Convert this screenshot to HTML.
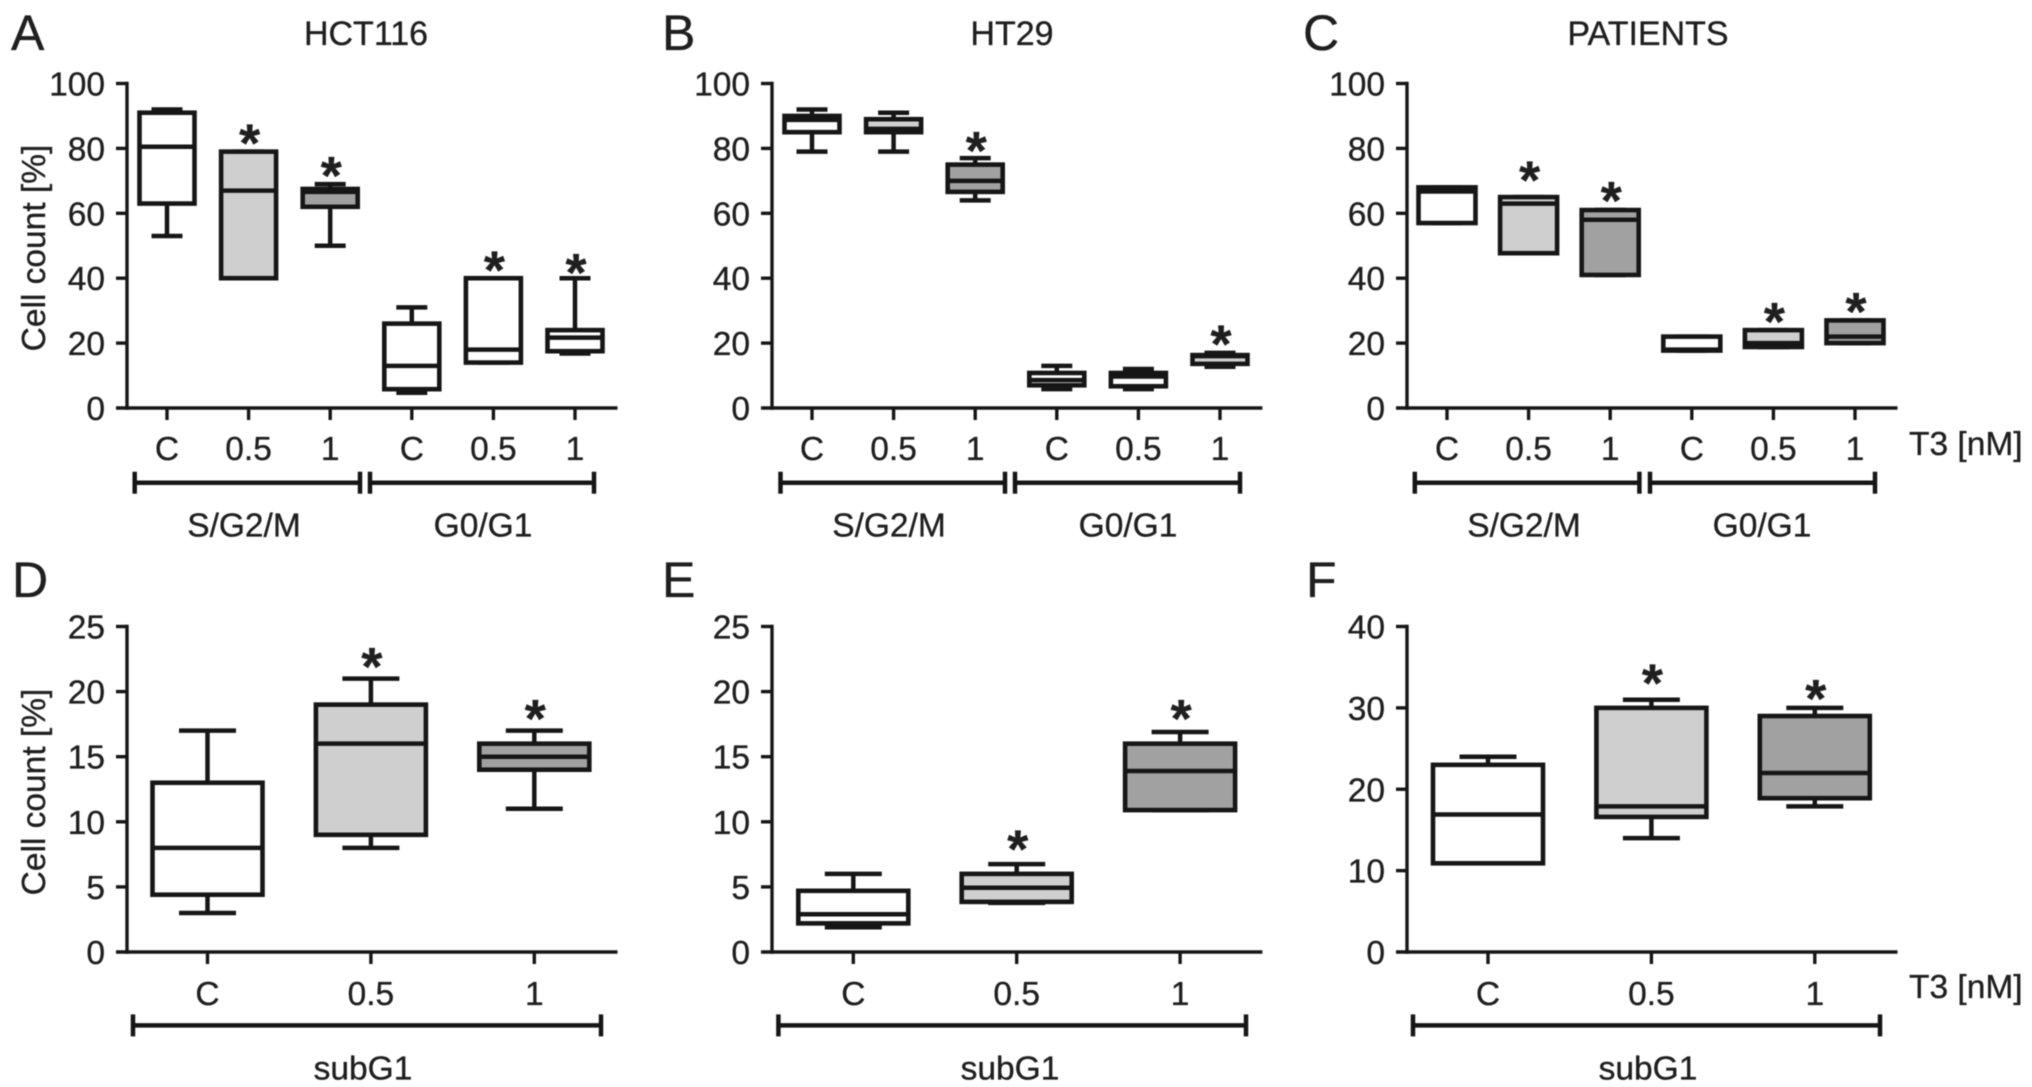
<!DOCTYPE html>
<html lang="en">
<head>
<meta charset="utf-8">
<title>Cell cycle box plots</title>
<style>
html,body{margin:0;padding:0;background:#fff;}
#figure{display:block;width:2032px;height:1087px;background:#fff;}
#figure text{font-family:"Liberation Sans",Arial,sans-serif;fill:#1f1f1f;stroke:#1f1f1f;stroke-width:0.35px;}
#content{filter:blur(0.6px);}
</style>
</head>
<body>
<svg id="figure" xmlns="http://www.w3.org/2000/svg" width="2032" height="1087" viewBox="0 0 2032 1087"><g id="content"></g></svg>
<script>
// ---- Shared categories and ticks ----
const categoriesSix = ['C','0.5','1','C','0.5','1'];
const categoriesThree = ['C','0.5','1'];
const groupsCycle = ['S/G2/M','G0/G1'];
const groupsSub = ['subG1'];
const ticksPercent = [0,20,40,60,80,100];
const ticksSub = [0,5,10,15,20,25];
const ticksPatientsSub = [0,10,20,30,40];

// ---- Panel A: HCT116 ----
const aMin = [53,40,50,4.7,14,16.8];
const aQ1  = [63,40,62,5.8,14,17.5];
const aMed = [80.5,67,66.6,13,18,21.7];
const aQ3  = [91,79,67.5,26,40,24];
const aMax = [92,79,69,31,40,40];
const aStars = [null,84,74,null,44.8,44];
const aFills = ['none','light','dark','none','none','none'];

// ---- Panel B: HT29 ----
const bMin = [79,79,64,5.8,5.8,12.7];
const bQ1  = [85,85,66.6,7,6.7,13.6];
const bMed = [88.8,86,70,8.6,9.7,16];
const bQ3  = [90,89,75,10.8,10.8,16.3];
const bMax = [92,91,77,13,12,17];
const bStars = [null,null,81.6,null,null,22];
const bFills = ['none','light','dark','none','none','light'];

// ---- Panel C: Patients ----
const cMin = [57,47.7,41,17.7,18.8,20];
const cQ1  = [57,47.7,41,17.7,18.8,20];
const cMed = [66.7,63,58,18,20,22];
const cQ3  = [68,65,61,22,24,27];
const cMax = [68,65,61,22,24,27];
const cStars = [null,72.5,66.2,null,29,32];
const cFills = ['none','light','dark','none','light','dark'];

// ---- Panel D: HCT116 subG1 ----
const dMin = [3,8,11];
const dQ1  = [4.4,9,14];
const dMed = [8,16,15];
const dQ3  = [13,19,16];
const dMax = [17,21,17];
const dStars = [null,22.5,18.5];
const dFills = ['none','light','dark'];

// ---- Panel E: HT29 subG1 ----
const eMin = [1.9,3.77,10.9];
const eQ1  = [2.2,3.85,10.9];
const eMed = [2.9,4.93,13.9];
const eQ3  = [4.7,6,16];
const eMax = [6,6.75,16.9];
const eStars = [null,8.5,18.5];
const eFills = ['none','light','dark'];

// ---- Panel F: Patients subG1 ----
const fMin = [10.9,14,17.9];
const fQ1  = [10.9,16.6,18.9];
const fMed = [16.9,17.9,22];
const fQ3  = [23,30,29];
const fMax = [24,31,30];
const fStars = [null,34,32.1];
const fFills = ['none','light','dark'];

const SVGNS = 'http://www.w3.org/2000/svg';
const root = document.getElementById('content');
const INK = '#161616';
const FILLS = {none:'#ffffff', light:'#cfcfcf', dark:'#a1a1a1'};

function svgEl(tag, parent){
  const el = document.createElementNS(SVGNS, tag);
  parent.appendChild(el);
  return el;
}
function drawLine(parent, x1, y1, x2, y2, w, name){
  const l = svgEl('line', parent);
  l.setAttribute('x1', x1); l.setAttribute('y1', y1);
  l.setAttribute('x2', x2); l.setAttribute('y2', y2);
  l.setAttribute('stroke', INK); l.setAttribute('stroke-width', w);
  
  
  return l;
}
function drawText(parent, str, x, y, size, anchor, name){
  const t = svgEl('text', parent);
  t.setAttribute('x', x); t.setAttribute('y', y);
  t.setAttribute('font-size', size);
  t.setAttribute('text-anchor', anchor);
  
  
  t.textContent = str;
  return t;
}

function drawPanel(cfg){
  const g = svgEl('g', root);
  
  

  const yMax = cfg.ticks[cfg.ticks.length - 1];
  const yScale = v => cfg.y0 - (v / yMax) * (cfg.y0 - cfg.yTop);
  const xScale = i => cfg.xFirst + i * cfg.xStep;

  drawText(g, cfg.letter, cfg.letterX, cfg.letterY, 50, 'start', 'panel-letter');
  if (cfg.title) drawText(g, cfg.title, cfg.titleX, 45, 34, 'middle', 'panel-title');

  // axes
  drawLine(g, cfg.axisX, cfg.yTop - 1.7, cfg.axisX, cfg.y0 + 1.7, 3.4, 'y-axis-line');
  drawLine(g, cfg.axisX - 11, cfg.y0, cfg.xEnd, cfg.y0, 3.4, 'x-axis-line');

  cfg.ticks.forEach(v => {
    const y = yScale(v);
    if (v !== 0) drawLine(g, cfg.axisX - 11, y, cfg.axisX, y, 3.4, 'y-tick');
    drawText(g, String(v), cfg.axisX - 22, y + 12, 33.5, 'end', 'y-tick-label');
  });
  if (cfg.yTitle) {
    const t = drawText(g, cfg.yTitle, 0, 0, 33.5, 'middle', 'y-axis-title');
    t.setAttribute('transform', 'translate(45,' + cfg.yTitleY + ') rotate(-90)');
  }

  // boxes
  cfg.categories.forEach((cat, i) => {
    const x = xScale(i);
    drawLine(g, x, cfg.y0, x, cfg.y0 + 12, 3.4, 'x-tick');
    drawText(g, cat, x, cfg.labelY, 33.5, 'middle', 'x-tick-label');

    const box = svgEl('g', g);
    
    
    const capH = cfg.capW / 2, boxH = cfg.boxW / 2;
    drawLine(box, x, yScale(cfg.max[i]), x, yScale(cfg.q3[i]), 4.5, 'whisker-upper');
    drawLine(box, x, yScale(cfg.q1[i]), x, yScale(cfg.min[i]), 4.5, 'whisker-lower');
    drawLine(box, x - capH, yScale(cfg.max[i]), x + capH, yScale(cfg.max[i]), 4.5, 'whisker-cap-upper');
    drawLine(box, x - capH, yScale(cfg.min[i]), x + capH, yScale(cfg.min[i]), 4.5, 'whisker-cap-lower');
    const r = svgEl('rect', box);
    r.setAttribute('x', x - boxH);
    r.setAttribute('y', yScale(cfg.q3[i]));
    r.setAttribute('width', cfg.boxW);
    r.setAttribute('height', yScale(cfg.q1[i]) - yScale(cfg.q3[i]));
    r.setAttribute('fill', FILLS[cfg.fills[i]]);
    r.setAttribute('stroke', INK);
    r.setAttribute('stroke-width', 4.6);
    
    
    drawLine(box, x - boxH, yScale(cfg.med[i]), x + boxH, yScale(cfg.med[i]), 4.5, 'median-line');

    if (cfg.stars[i] !== null) {
      // the asterisk glyph's ink sits above the baseline, so the text baseline is offset down
      const s = drawText(g, '*', x + 1, yScale(cfg.stars[i]) + 26, 54, 'middle', 'significance-asterisk');
      s.setAttribute('font-weight', 'bold');
    }
  });

  // group brackets
  cfg.groups.forEach((name, i) => {
    const b = cfg.brackets[i];
    drawLine(g, b[0], cfg.bracketY, b[1], cfg.bracketY, 4.5, 'group-bracket');
    drawLine(g, b[0], cfg.bracketY - 11, b[0], cfg.bracketY + 11, 4.5, 'group-bracket-end');
    drawLine(g, b[1], cfg.bracketY - 11, b[1], cfg.bracketY + 11, 4.5, 'group-bracket-end');
    drawText(g, name, b[2], cfg.bracketY + 54, 33.5, 'middle', 'group-label');
  });

  if (cfg.unitY) drawText(g, 'T3 [nM]', 1909, cfg.unitY, 33.5, 'start', 'dose-unit-label');
}

const topRow = {yTop:83.5, y0:408, xStep:81.6, capW:31, boxW:55, labelY:460, bracketY:482.7, letterY:50, categories:categoriesSix, groups:groupsCycle, ticks:ticksPercent};
const botRow = {yTop:626.5, y0:952, xStep:163.4, capW:57, boxW:110, labelY:1005, bracketY:1025.4, letterY:597, categories:categoriesThree, groups:groupsSub};

drawPanel(Object.assign({}, topRow, {letter:'A', letterX:11, title:'HCT116', titleX:366, axisX:127, xEnd:617.5, xFirst:167, yTitle:'Cell count [%]', yTitleY:248,
  min:aMin, q1:aQ1, med:aMed, q3:aQ3, max:aMax, stars:aStars, fills:aFills, brackets:[[134.7,360,244],[370,594,483]]}));
drawPanel(Object.assign({}, topRow, {letter:'B', letterX:662, title:'HT29', titleX:1012, axisX:772, xEnd:1262.4, xFirst:812,
  min:bMin, q1:bQ1, med:bMed, q3:bQ3, max:bMax, stars:bStars, fills:bFills, brackets:[[780.5,1005,889],[1015,1240,1128]]}));
drawPanel(Object.assign({}, topRow, {letter:'C', letterX:1303, title:'PATIENTS', titleX:1648, axisX:1407, xEnd:1897.5, xFirst:1447, capW:31, boxW:57, unitY:455,
  min:cMin, q1:cQ1, med:cMed, q3:cQ3, max:cMax, stars:cStars, fills:cFills, brackets:[[1414.8,1639.4,1524],[1650,1875,1762]]}));
drawPanel(Object.assign({}, botRow, {letter:'D', letterX:12, axisX:127, xEnd:617.5, xFirst:207.5, ticks:ticksSub, yTitle:'Cell count [%]', yTitleY:792,
  min:dMin, q1:dQ1, med:dMed, q3:dQ3, max:dMax, stars:dStars, fills:dFills, brackets:[[133,601,363]]}));
drawPanel(Object.assign({}, botRow, {letter:'E', letterX:662, axisX:772, xEnd:1262.4, xFirst:853.3, ticks:ticksSub,
  min:eMin, q1:eQ1, med:eMed, q3:eQ3, max:eMax, stars:eStars, fills:eFills, brackets:[[778.4,1246,1010]]}));
drawPanel(Object.assign({}, botRow, {letter:'F', letterX:1306, axisX:1407, xEnd:1897.5, xFirst:1488, ticks:ticksPatientsSub,
  min:fMin, q1:fQ1, med:fMed, q3:fQ3, max:fMax, stars:fStars, fills:fFills, brackets:[[1413,1880,1648]], unitY:998}));
</script>
</body>
</html>
